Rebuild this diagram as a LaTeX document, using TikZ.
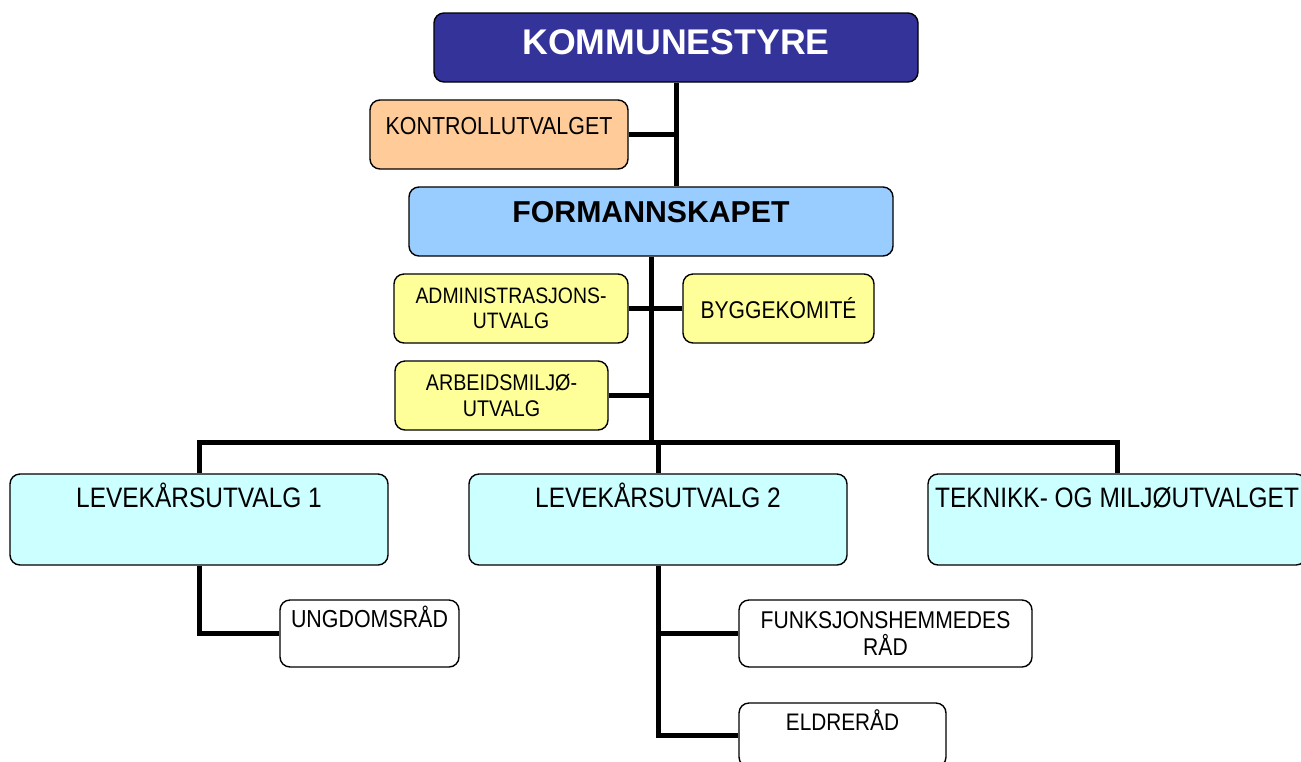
\documentclass[tikz,border=0pt]{standalone}
\usepackage{fontspec}
\setmainfont{Liberation Sans}
\newfontfamily\narrowfont[FakeStretch=0.87]{Liberation Sans}
\usepackage{tikz}
\usetikzlibrary{positioning, calc}

\definecolor{komblue}{HTML}{333399}
\definecolor{kontrollorange}{HTML}{FFCC99}
\definecolor{formblue}{HTML}{99CCFF}
\definecolor{utvalgyellow}{HTML}{FFFF99}
\definecolor{levcyan}{HTML}{CCFFFF}

\def\px{0.2mm}

\begin{document}
\begin{tikzpicture}[x=\px, y=-\px,
    box/.style 2 args={draw=black, line width=0.8pt, rounded corners=2mm, inner sep=0pt,
        minimum width=#1*\px, minimum height=#2*\px},
    conn/.style={black, line width=1mm},
    txt/.style={font=\narrowfont\fontsize{#1}{#1}\selectfont, inner sep=0pt, anchor=base},
    txttwo/.style 2 args={font=\narrowfont\fontsize{#1}{#2}\selectfont, inner sep=0pt, align=center},
    head/.style={font=\bfseries\fontsize{#1}{#1}\selectfont, inner sep=0pt, anchor=base}]

    \useasboundingbox (0,0) rectangle (1301,761);

    % top level
    \node[box={484}{69}, fill=komblue] (kom) at (676,47.5) {};
    \node[head=20.3, text=white] (kom-t) at ($(kom.north)+(0,42)$) {KOMMUNESTYRE};

    \node[box={258}{69}, fill=kontrollorange] (kontroll) at (499,134.5) {};
    \node[txt=14] (kontroll-t) at ($(kontroll.north)+(0,35)$) {KONTROLLUTVALGET};

    \node[box={484}{69}, fill=formblue] (form) at (651,221.5) {};
    \node[head=17.2] (form-t) at ($(form.north)+(0,36)$) {FORMANNSKAPET};

    % utvalg under formannskapet
    \node[box={234}{69}, fill=utvalgyellow] (admin) at (511,308.5) {};
    \node[txttwo={12.7}{14.2}] (admin-t) at (admin.center) {ADMINISTRASJONS-\\UTVALG};

    \node[box={191}{69}, fill=utvalgyellow] (bygg) at (778.5,308.5) {};
    \node[txttwo={13.8}{15}] (bygg-t) at (bygg.center) {BYGGEKOMITÉ};

    \node[box={213}{69}, fill=utvalgyellow] (arbeids) at (501.5,395.5) {};
    \node[txttwo={12.9}{14.7}] (arbeids-t) at (arbeids.center) {ARBEIDSMILJØ-\\UTVALG};

    % hovedutvalg
    \foreach \name/\cx/\label in {
        lev1/199/LEVEKÅRSUTVALG 1,
        lev2/658/LEVEKÅRSUTVALG 2,
        tek/1117/TEKNIKK- OG MILJØUTVALGET}{

        \node[box={378}{91}, fill=levcyan] (\name) at (\cx,519.5) {};
        \node[txt=16] (\name-t) at ($(\name.north)+(0,34)$) {\label};
    }

    % raad
    \node[box={179}{67}, fill=white] (ungdom) at (369.5,633.5) {};
    \node[txt=14] (ungdom-t) at ($(ungdom.north)+(0,28)$) {UNGDOMSRÅD};

    \node[box={293}{67}, fill=white] (funk) at (885.5,633.5) {};
    \node[txttwo={13.8}{15.9}] (funk-t) at (funk.center) {FUNKSJONSHEMMEDES\\RÅD};

    \node[box={207}{64}, fill=white] (eldre) at (842.5,735) {};
    \node[txt=13.6] (eldre-t) at ($(eldre.north)+(0,28)$) {ELDRERÅD};

    % connectors
    \coordinate (bus) at (0,442);
    \draw[conn] (kom.south) -- (kom.south |- form.north);
    \draw[conn] (kontroll.east) -- (kontroll.east -| kom.south);
    \draw[conn] (form.south) -- (form.south |- bus);
    \draw[conn] (admin.east) -- (bygg.west);
    \draw[conn] (arbeids.east) -- (arbeids.east -| form.south);
    \draw[conn] (lev1.north) -- (lev1.north |- bus) -| (tek.north);
    \draw[conn] (lev2.north) -- (lev2.north |- bus);
    \draw[conn] (lev1.south) |- (ungdom.west);
    \draw[conn] (lev2.south) |- (eldre.west);
    \draw[conn] (lev2.south |- funk.west) -- (funk.west);
\end{tikzpicture}
\end{document}
